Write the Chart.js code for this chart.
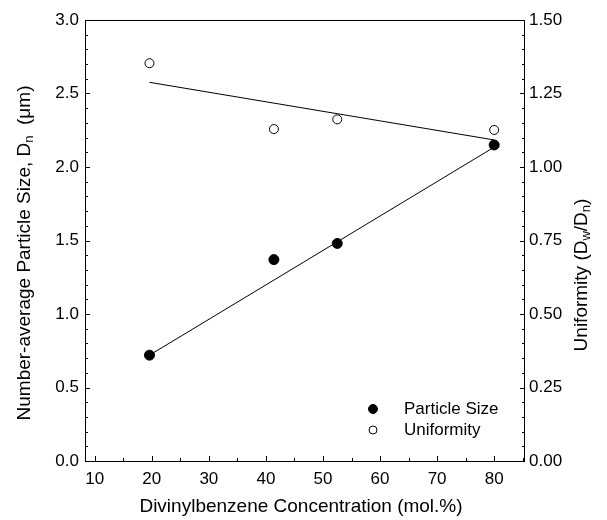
<!DOCTYPE html>
<html>
<head>
<meta charset="utf-8">
<script src="https://cdn.jsdelivr.net/npm/chart.js@4.4.1/dist/chart.umd.min.js"></script>
<style>
html,body{margin:0;padding:0;background:#fff;}
#wrap{width:607px;height:520px;position:relative;}
</style>
</head>
<body>
<div id="wrap"><canvas id="c" width="607" height="520"></canvas></div>
<script>
// ---- data ----
const dvbConc = [19.6, 41.4, 52.5, 80];
const particleSize = [0.72, 1.37, 1.48, 2.15];
const uniformity = [1.353, 1.129, 1.162, 1.126];
const sizeFitX = [19.6, 80];
const sizeFitY = [0.72, 2.135];
const unifFitX = [19.6, 80];
const unifFitY = [1.288, 1.092];
const xTicks = [10, 20, 30, 40, 50, 60, 70, 80];
const yLeftTicks = [0.0, 0.5, 1.0, 1.5, 2.0, 2.5, 3.0];
const yRightTicks = [0.00, 0.25, 0.50, 0.75, 1.00, 1.25, 1.50];
const seriesNames = ['Particle Size', 'Uniformity'];

const FONT = 'Liberation Sans, Arial, sans-serif';
const pts = (xs, ys) => xs.map((x, i) => ({x: x, y: ys[i]}));

// custom plugin: frame, inward ticks, rich-text axis titles, legend
const decor = {
  id: 'decor',
  afterDatasetsDraw(chart) {
    const ctx = chart.ctx;
    const a = chart.chartArea;
    const sx = chart.scales.x, sl = chart.scales.y, sr = chart.scales.y2;
    ctx.save();
    ctx.strokeStyle = '#000';
    ctx.lineWidth = 1;
    // frame
    ctx.strokeRect(Math.round(a.left) + 0.5, Math.round(a.top) + 0.5,
      Math.round(a.right - a.left) - 1, Math.round(a.bottom - a.top));
    ctx.beginPath();
    for (let i = 0; i <= 30; i++) {
      const v = i / 10;
      const y = Math.round(sl.getPixelForValue(v)) + 0.5;
      const len = (i % 5 === 0) ? 5 : 3;
      ctx.moveTo(a.left, y); ctx.lineTo(a.left + len, y);
    }
    for (let i = 0; i <= 30; i++) {
      const v = i * 0.05;
      const y = Math.round(sr.getPixelForValue(v)) + 0.5;
      const len = (i % 5 === 0) ? 5 : 3;
      ctx.moveTo(a.right, y); ctx.lineTo(a.right - len, y);
    }
    for (let v = 10; v <= 85; v += 5) {
      const x = Math.round(sx.getPixelForValue(v)) + 0.5;
      const len = (v % 10 === 0) ? 5 : 3;
      ctx.moveTo(x, a.bottom); ctx.lineTo(x, a.bottom - len);
    }
    ctx.stroke();

    function rich(parts, size) {
      const subSize = Math.round(size * 0.7);
      let w = 0;
      parts.forEach(p => {
        ctx.font = (p[1] ? subSize : size) + 'px ' + FONT;
        w += ctx.measureText(p[0]).width;
      });
      return {w: w, draw(x0, y0) {
        let x = x0;
        parts.forEach(p => {
          ctx.font = (p[1] ? subSize : size) + 'px ' + FONT;
          ctx.fillText(p[0], x, y0 + (p[1] ? size * 0.25 : 0));
          x += ctx.measureText(p[0]).width;
        });
      }};
    }
    ctx.fillStyle = '#000';
    ctx.textBaseline = 'middle';
    ctx.textAlign = 'left';

    const xt = rich([['Divinylbenzene Concentration (mol.%)', false]], 19);
    xt.draw(301 - xt.w / 2, 507);

    const lt = rich([['Number-average Particle Size, D', false], ['n', true], ['  (\u03bcm)', false]], 19);
    ctx.save();
    ctx.translate(25, 253);
    ctx.rotate(-Math.PI / 2);
    lt.draw(-lt.w / 2, 0);
    ctx.restore();

    const rt = rich([['Uniformity (D', false], ['w', true], ['/D', false], ['n', true], [')', false]], 19);
    ctx.save();
    ctx.translate(582, 275);
    ctx.rotate(-Math.PI / 2);
    rt.draw(-rt.w / 2, 0);
    ctx.restore();

    const legY = [409, 430];
    const dsIdx = [2, 3];
    ctx.font = '17px ' + FONT;
    dsIdx.forEach((di, k) => {
      const ds = chart.data.datasets[di];
      ctx.beginPath();
      ctx.arc(373, legY[k], ds.pointRadius - 0.5, 0, Math.PI * 2);
      ctx.fillStyle = ds.pointBackgroundColor;
      ctx.fill();
      ctx.strokeStyle = '#000';
      ctx.lineWidth = 1;
      ctx.stroke();
      ctx.fillStyle = '#000';
      ctx.fillText(ds.label, 404, legY[k]);
    });
    ctx.restore();
  }
};

new Chart(document.getElementById('c'), {
  type: 'scatter',
  data: {
    datasets: [
      {label: 'size fit', data: pts(sizeFitX, sizeFitY), yAxisID: 'y', showLine: true,
       borderColor: '#000', borderWidth: 1, pointRadius: 0},
      {label: 'uniformity fit', data: pts(unifFitX, unifFitY), yAxisID: 'y2', showLine: true,
       borderColor: '#000', borderWidth: 1, pointRadius: 0},
      {label: seriesNames[0], data: pts(dvbConc, particleSize), yAxisID: 'y',
       pointRadius: 5, pointBackgroundColor: '#000', pointBorderColor: '#000', pointBorderWidth: 1},
      {label: seriesNames[1], data: pts(dvbConc, uniformity), yAxisID: 'y2',
       pointRadius: 4.5, pointBackgroundColor: '#fff', pointBorderColor: '#000', pointBorderWidth: 1}
    ]
  },
  options: {
    responsive: false,
    animation: false,
    layout: {padding: {top: 20, left: 0, right: 0, bottom: 0}},
    plugins: {legend: {display: false}, tooltip: {enabled: false}},
    scales: {
      x: {
        type: 'linear', min: 8.3, max: 85.4,
        afterBuildTicks: s => { s.ticks = xTicks.map(v => ({value: v})); },
        afterFit: s => { s.height = 59; },
        grid: {display: false, drawTicks: false},
        border: {display: false},
        ticks: {color: '#000', font: {family: FONT, size: 17}, padding: 8, maxRotation: 0}
      },
      y: {
        type: 'linear', position: 'left', min: 0, max: 3,
        afterBuildTicks: s => { s.ticks = yLeftTicks.map(v => ({value: v})); },
        afterFit: s => { s.width = 85; },
        grid: {display: false, drawTicks: false},
        border: {display: false},
        ticks: {color: '#000', font: {family: FONT, size: 17}, padding: 6,
                callback: v => v.toFixed(1)}
      },
      y2: {
        type: 'linear', position: 'right', min: 0, max: 1.5,
        afterBuildTicks: s => { s.ticks = yRightTicks.map(v => ({value: v})); },
        afterFit: s => { s.width = 82; },
        grid: {display: false, drawTicks: false},
        border: {display: false},
        ticks: {color: '#000', font: {family: FONT, size: 17}, padding: 4,
                callback: v => v.toFixed(2)}
      }
    }
  },
  plugins: [decor]
});
</script>
</body>
</html>
